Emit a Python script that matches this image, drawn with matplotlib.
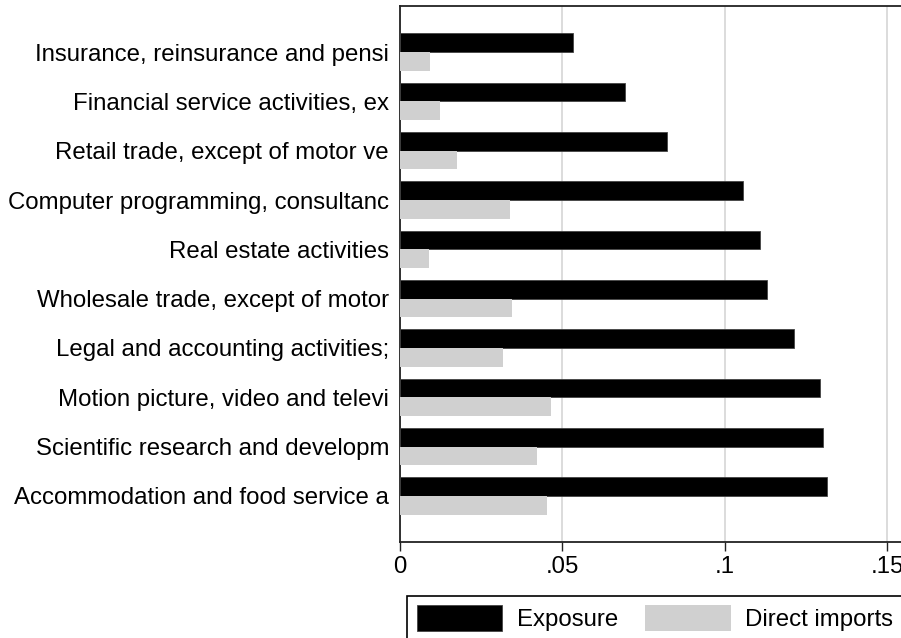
import matplotlib
matplotlib.use("Agg")
import matplotlib.pyplot as plt

plt.rcParams['font.family'] = ['Liberation Sans', 'DejaVu Sans']

categories = [
    "Insurance, reinsurance and pensi",
    "Financial service activities, ex",
    "Retail trade, except of motor ve",
    "Computer programming, consultanc",
    "Real estate activities",
    "Wholesale trade, except of motor",
    "Legal and accounting activities;",
    "Motion picture, video and televi",
    "Scientific research and developm",
    "Accommodation and food service a",
]
exposure = [0.0534, 0.0694, 0.0823, 0.1057, 0.1109, 0.1132, 0.1213, 0.1294, 0.1302, 0.1316]
direct_imports = [0.0094, 0.0125, 0.0176, 0.0340, 0.0090, 0.0346, 0.0317, 0.0466, 0.0424, 0.0453]
series_names = ["Exposure", "Direct imports"]
tick_values = [0, 0.05, 0.10, 0.15]
tick_labels = ["0", ".05", ".1", ".15"]

FS = 17.3
W, H = 901, 638
fig = plt.figure(figsize=(W / 100, H / 100), dpi=100)

x0, x1 = 399.5, 901.0
y_top, y_bot = 6.0, 542.0
ax = fig.add_axes([x0 / W, 1 - y_bot / H, (x1 - x0) / W, (y_bot - y_top) / H])

scale = 3250.0  # px per unit
ax.set_xlim(0, (x1 - x0) / scale)
ax.set_ylim(9.935, -0.935)

h = 0.38
pos = list(range(len(categories)))
b1 = ax.barh([p - h / 2 for p in pos], exposure, height=h, color='black',
             edgecolor='#444444', linewidth=0.6, label=series_names[0], zorder=3)
b2 = ax.barh([p + h / 2 for p in pos], direct_imports, height=h, color='#d0d0d0',
             edgecolor='none', label=series_names[1], zorder=3)

ax.set_yticks(pos)
ax.set_yticklabels(categories, fontsize=FS)
ax.tick_params(axis='y', length=0, pad=7.5)
ax.set_xticks(tick_values)
ax.set_xticklabels(tick_labels, fontsize=FS)
ax.tick_params(axis='x', length=6.5, width=1.0, pad=3.5, color='#222222')

ax.xaxis.grid(True, color='#dcdcdc', linewidth=1.4, zorder=0)
ax.set_axisbelow(True)
for s in ['left', 'bottom', 'top']:
    ax.spines[s].set_color('#222222')
    ax.spines[s].set_linewidth(1.3)
ax.spines['right'].set_visible(False)

leg = fig.legend(handles=[b1, b2], labels=series_names, loc='upper left',
                 bbox_to_anchor=(407.3 / W, 1 - 595.7 / H), bbox_transform=fig.transFigure,
                 ncol=2, frameon=True, fancybox=False, edgecolor='black', framealpha=1,
                 borderaxespad=0, borderpad=0.4, handlelength=3.55, handleheight=1.25,
                 handletextpad=0.62, columnspacing=1.12, fontsize=FS)
leg.get_frame().set_linewidth(1.2)

fig.savefig("out.png", dpi=100)
